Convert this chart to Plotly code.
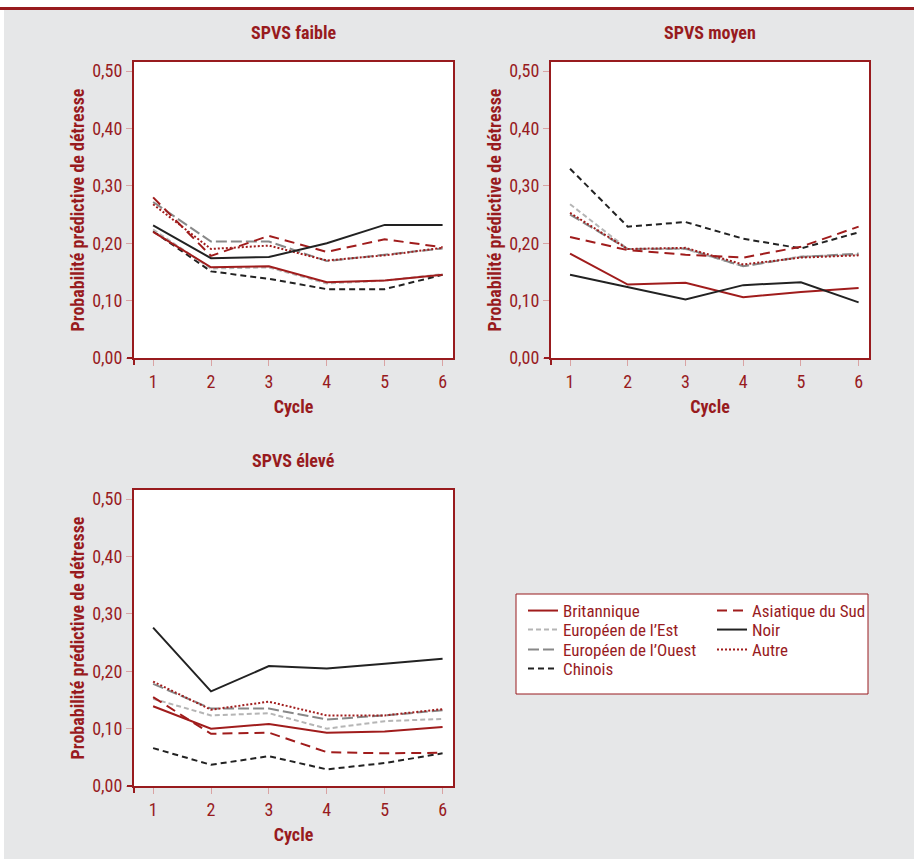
import plotly.graph_objects as go

cycles = [1, 2, 3, 4, 5, 6]
groups = ["Britannique", "Asiatique du Sud", "Européen de l’Est", "Noir",
          "Européen de l’Ouest", "Autre", "Chinois"]
panel_titles = ["SPVS faible", "SPVS moyen", "SPVS élevé"]
y_ticks = [0.0, 0.1, 0.2, 0.3, 0.4, 0.5]

# values per panel (faible, moyen, élevé)
britannique = [
    [0.220, 0.158, 0.160, 0.132, 0.135, 0.145],
    [0.182, 0.128, 0.131, 0.106, 0.115, 0.122],
    [0.139, 0.100, 0.108, 0.093, 0.095, 0.103],
]
asiatique_sud = [
    [0.280, 0.178, 0.213, 0.185, 0.207, 0.193],
    [0.211, 0.188, 0.180, 0.175, 0.194, 0.229],
    [0.155, 0.091, 0.093, 0.059, 0.057, 0.058],
]
europeen_est = [
    [0.224, 0.156, 0.158, 0.130, 0.135, 0.146],
    [0.268, 0.190, 0.190, 0.160, 0.177, 0.180],
    [0.152, 0.123, 0.127, 0.100, 0.113, 0.117],
]
noir = [
    [0.231, 0.174, 0.176, 0.200, 0.232, 0.232],
    [0.145, 0.124, 0.102, 0.127, 0.132, 0.097],
    [0.276, 0.165, 0.209, 0.205, 0.213, 0.222],
]
europeen_ouest = [
    [0.272, 0.203, 0.203, 0.169, 0.180, 0.191],
    [0.250, 0.190, 0.191, 0.160, 0.176, 0.182],
    [0.178, 0.135, 0.135, 0.116, 0.123, 0.132],
]
autre = [
    [0.268, 0.190, 0.196, 0.170, 0.179, 0.192],
    [0.253, 0.190, 0.192, 0.163, 0.175, 0.179],
    [0.182, 0.133, 0.147, 0.123, 0.123, 0.134],
]
chinois = [
    [0.221, 0.151, 0.138, 0.120, 0.120, 0.145],
    [0.330, 0.229, 0.237, 0.208, 0.191, 0.219],
    [0.066, 0.037, 0.052, 0.029, 0.040, 0.057],
]

series = [britannique, asiatique_sud, europeen_est, noir, europeen_ouest, autre, chinois]

RED = "#981b1e"
TICK = "#d9a3a3"
BG = "#e6e7e8"
FONT = "Liberation Sans Narrow, Roboto Condensed, Open Sans, sans-serif"

styles = [
    dict(color="#a01c1c", dash="solid"),
    dict(color="#a01c1c", dash="10px,6px"),
    dict(color="#b5b5b5", dash="5px,3px"),
    dict(color="#222222", dash="solid"),
    dict(color="#888888", dash="11px,4px"),
    dict(color="#a01c1c", dash="2px,2px"),
    dict(color="#222222", dash="6px,4px"),
]
draw_order = [6, 2, 4, 0, 1, 5, 3]

W, H = 914, 859
def px_x(p):
    return p / W
def px_y(p):
    return 1 - p / H

# pixel boxes: (left, right, top, bottom)
boxes = [(134, 453, 62, 358), (551, 869, 62, 358), (134, 453, 490, 786)]

# legend entry pixel anchors (left of symbol, row centre)
legend_pos = [(523, 611), (712, 611), (523, 630), (712, 630),
              (523, 650), (712, 650), (523, 669)]

fig = go.Figure()
for k in range(3):
    for i in draw_order:
        fig.add_trace(go.Scatter(
            x=cycles, y=series[i][k], mode="lines", name=groups[i],
            line=dict(color=styles[i]["color"], dash=styles[i]["dash"], width=2),
            xaxis="x" if k == 0 else f"x{k+1}",
            yaxis="y" if k == 0 else f"y{k+1}",
            showlegend=(k == 2),
            legend="legend" if i == 0 else f"legend{i+1}",
        ))

layout = dict(
    width=W, height=H, paper_bgcolor=BG, plot_bgcolor="white",
    margin=dict(l=0, r=0, t=0, b=0, autoexpand=False),
    separators=", ",
    font=dict(family=FONT, color=RED, size=18),
    shapes=[], annotations=[],
)

for i, (lx, ly) in enumerate(legend_pos):
    key = "legend" if i == 0 else f"legend{i+1}"
    layout[key] = dict(
        x=px_x(lx), y=px_y(ly), xanchor="left", yanchor="middle",
        bgcolor="rgba(0,0,0,0)", borderwidth=0, itemwidth=30,
        font=dict(family=FONT, size=17, color=RED),
    )

for k, (l, r, t, b) in enumerate(boxes):
    sx = "" if k == 0 else str(k + 1)
    layout[f"xaxis{sx}"] = dict(
        domain=[px_x(l), px_x(r)], anchor=f"y{sx}", range=[0.67, 6.18],
        tickvals=cycles, ticks="outside", ticklen=6, tickcolor=TICK, tickwidth=1,
        showline=True, linecolor=RED, linewidth=2, mirror=True,
        showgrid=False, zeroline=False,
        tickfont=dict(size=18, color=RED),
        title=dict(text="<b>Cycle</b>", font=dict(size=18, color=RED), standoff=10),
    )
    layout[f"yaxis{sx}"] = dict(
        domain=[px_y(b), px_y(t)], anchor=f"x{sx}", range=[0, 0.516],
        tickvals=y_ticks, tickformat=".2f", ticks="outside", ticklen=6,
        tickcolor=TICK, tickwidth=1,
        showline=True, linecolor=RED, linewidth=2, mirror=True,
        showgrid=False, zeroline=False,
        tickfont=dict(size=18, color=RED),
        title=dict(text="<b>Probabilité prédictive de détresse</b>",
                   font=dict(size=18, color=RED), standoff=3),
    )
    layout["annotations"].append(dict(
        text=f"<b>{panel_titles[k]}</b>", x=(px_x(l) + px_x(r)) / 2,
        y=px_y(t - 30), xref="paper", yref="paper", showarrow=False,
        xanchor="center", yanchor="middle", font=dict(size=18, color=RED)))
    # small cross at bottom-left corner
    layout["shapes"].append(dict(type="line", xref="paper", yref="paper",
                                 x0=px_x(l), x1=px_x(l), y0=px_y(b), y1=px_y(b + 7),
                                 line=dict(color=RED, width=2)))
    layout["shapes"].append(dict(type="line", xref="paper", yref="paper",
                                 x0=px_x(l - 7), x1=px_x(l), y0=px_y(b), y1=px_y(b),
                                 line=dict(color=RED, width=2)))

# legend frame
layout["shapes"].append(dict(type="rect", xref="paper", yref="paper",
                             x0=px_x(516), x1=px_x(868), y0=px_y(694), y1=px_y(594),
                             fillcolor="white", line=dict(color=RED, width=1),
                             layer="below"))
# page decorations
layout["shapes"].append(dict(type="rect", xref="paper", yref="paper",
                             x0=0, x1=1, y0=px_y(7), y1=1,
                             fillcolor="white", line=dict(width=0), layer="below"))
layout["shapes"].append(dict(type="rect", xref="paper", yref="paper",
                             x0=0, x1=px_x(4), y0=0, y1=1,
                             fillcolor="white", line=dict(width=0), layer="below"))
layout["shapes"].append(dict(type="line", xref="paper", yref="paper",
                             x0=0, x1=1, y0=px_y(8.5), y1=px_y(8.5),
                             line=dict(color=RED, width=3)))

fig.update_layout(**layout)
fig.write_html("out.html",
               config={"displayModeBar": False},
               post_script="document.body.style.margin='0';document.body.style.padding='0';")
